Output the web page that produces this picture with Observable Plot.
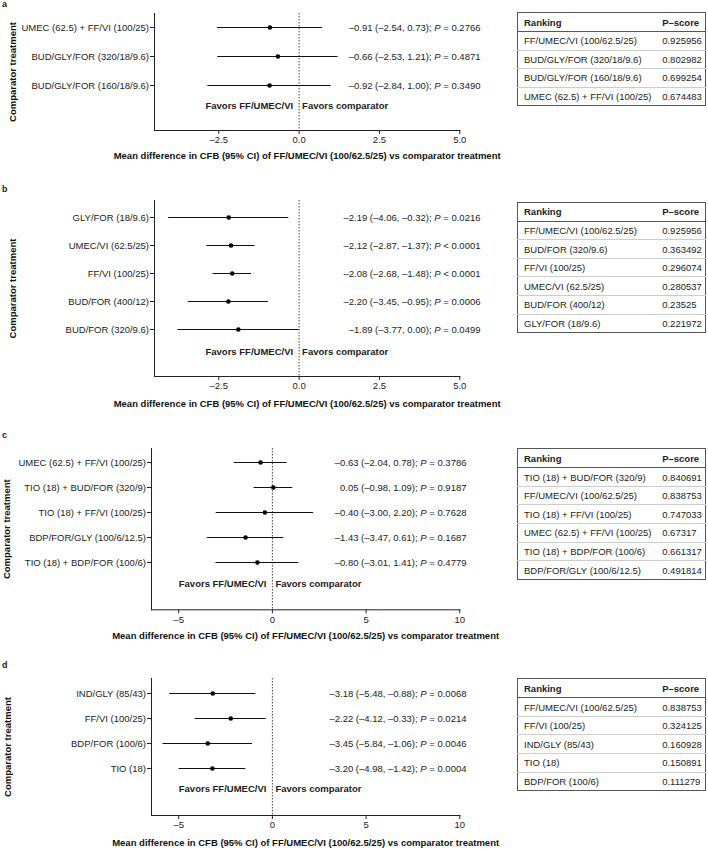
<!DOCTYPE html>
<html><head><meta charset="utf-8">
<script src="https://cdn.jsdelivr.net/npm/d3@7"></script>
<script src="https://cdn.jsdelivr.net/npm/@observablehq/plot@0.6"></script>
<style>
body{margin:0;background:#fff;}
#root{position:relative;width:708px;height:850px;overflow:hidden;font-family:"Liberation Sans",Arial,sans-serif;color:#222;}
.panel{position:absolute;left:0;}
.letter{position:absolute;left:2px;font-weight:bold;font-size:9px;line-height:10px;}
table.rank{position:absolute;left:517px;width:188px;table-layout:fixed;border-collapse:collapse;font-size:9.5px;border:1px solid #555;color:#222;}
table.rank th{font-weight:bold;text-align:left;height:18px;padding:0 0 0 6px;border-bottom:1px solid #555;white-space:nowrap;}
table.rank td{height:17.6px;padding:0 0 0 6px;border-top:1px solid #ccc;white-space:nowrap;}
table.rank th:nth-child(2), table.rank td:nth-child(2){padding-left:0;}
</style>
</head><body><div id="root"></div>
<script>
// ---------- Data ----------
const aTreatments = ["UMEC (62.5) + FF/VI (100/25)", "BUD/GLY/FOR (320/18/9.6)", "BUD/GLY/FOR (160/18/9.6)"];
const aMean  = [-0.91, -0.66, -0.92];
const aLower = [-2.54, -2.53, -2.84];
const aUpper = [0.73, 1.21, 1.00];
const aP     = ["= 0.2766", "= 0.4871", "= 0.3490"];
const aRankNames  = ["FF/UMEC/VI (100/62.5/25)", "BUD/GLY/FOR (320/18/9.6)", "BUD/GLY/FOR (160/18/9.6)", "UMEC (62.5) + FF/VI (100/25)"];
const aRankScores = ["0.925956", "0.802982", "0.699254", "0.674483"];

const bTreatments = ["GLY/FOR (18/9.6)", "UMEC/VI (62.5/25)", "FF/VI (100/25)", "BUD/FOR (400/12)", "BUD/FOR (320/9.6)"];
const bMean  = [-2.19, -2.12, -2.08, -2.20, -1.89];
const bLower = [-4.06, -2.87, -2.68, -3.45, -3.77];
const bUpper = [-0.32, -1.37, -1.48, -0.95, 0.00];
const bP     = ["= 0.0216", "< 0.0001", "< 0.0001", "= 0.0006", "= 0.0499"];
const bRankNames  = ["FF/UMEC/VI (100/62.5/25)", "BUD/FOR (320/9.6)", "FF/VI (100/25)", "UMEC/VI (62.5/25)", "BUD/FOR (400/12)", "GLY/FOR (18/9.6)"];
const bRankScores = ["0.925956", "0.363492", "0.296074", "0.280537", "0.23525", "0.221972"];

const cTreatments = ["UMEC (62.5) + FF/VI (100/25)", "TIO (18) + BUD/FOR (320/9)", "TIO (18) + FF/VI (100/25)", "BDP/FOR/GLY (100/6/12.5)", "TIO (18) + BDP/FOR (100/6)"];
const cMean  = [-0.63, 0.05, -0.40, -1.43, -0.80];
const cLower = [-2.04, -0.98, -3.00, -3.47, -3.01];
const cUpper = [0.78, 1.09, 2.20, 0.61, 1.41];
const cP     = ["= 0.3786", "= 0.9187", "= 0.7628", "= 0.1687", "= 0.4779"];
const cRankNames  = ["TIO (18) + BUD/FOR (320/9)", "FF/UMEC/VI (100/62.5/25)", "TIO (18) + FF/VI (100/25)", "UMEC (62.5) + FF/VI (100/25)", "TIO (18) + BDP/FOR (100/6)", "BDP/FOR/GLY (100/6/12.5)"];
const cRankScores = ["0.840691", "0.838753", "0.747033", "0.67317", "0.661317", "0.491814"];

const dTreatments = ["IND/GLY (85/43)", "FF/VI (100/25)", "BDP/FOR (100/6)", "TIO (18)"];
const dMean  = [-3.18, -2.22, -3.45, -3.20];
const dLower = [-5.48, -4.12, -5.84, -4.98];
const dUpper = [-0.88, -0.33, -1.06, -1.42];
const dP     = ["= 0.0068", "= 0.0214", "= 0.0046", "= 0.0004"];
const dRankNames  = ["FF/UMEC/VI (100/62.5/25)", "FF/VI (100/25)", "IND/GLY (85/43)", "TIO (18)", "BDP/FOR (100/6)"];
const dRankScores = ["0.838753", "0.324125", "0.160928", "0.150891", "0.111279"];

const xTicksAB = [-2.5, 0, 2.5, 5];
const xTicksCD = [-5, 0, 5, 10];
const xTitle = "Mean difference in CFB (95% CI) of FF/UMEC/VI (100/62.5/25) vs comparator treatment";
const yTitle = "Comparator treatment";
const favorsLeft = "Favors FF/UMEC/VI";
const favorsRight = "Favors comparator";
const rankHeader = ["Ranking", "P\u2013score"];

// ---------- Helpers ----------
const dash = s => s.replace(/-/g, "\u2013");
const f2 = v => dash(v.toFixed(2));
const root = document.getElementById("root");

function forest(o) {
  const W = 500, right = 459.3;
  const T = o.top;
  const H = o.height;
  const data = o.treatments.map((t, i) => ({
    t, m: o.mean[i], lo: o.lower[i], hi: o.upper[i],
    txt: `${f2(o.mean[i])} (${f2(o.lower[i])}, ${f2(o.upper[i])}); P ${o.p[i]}`
  }));
  const mt = o.frameTop - T;
  const mb = H - (o.frameBottom - T);
  const svg = Plot.plot({
    width: W, height: H,
    marginTop: mt, marginBottom: mb, marginLeft: o.marginLeft, marginRight: W - right,
    style: {fontFamily: '"Liberation Sans", Arial, sans-serif', fontSize: "9.5px", color: "#222", background: "transparent", overflow: "visible"},
    x: {domain: o.domain, ticks: o.ticks, tickFormat: o.tickFormat, line: true, tickSize: 4, tickPadding: 2, label: null},
    y: {type: "point", domain: o.treatments, range: [o.rowFirst - T, o.rowLast - T], padding: 0, line: true, tickSize: 4, tickPadding: 1.5, label: null},
    marks: [
      Plot.ruleX([0], {stroke: "#333", strokeWidth: 0.9, strokeDasharray: "1.5,1.5"}),
      Plot.ruleY(data, {y: "t", x1: "lo", x2: "hi", stroke: "#111", strokeWidth: 1.2}),
      Plot.dot(data, {x: "m", y: "t", r: 2.3, fill: "#000", stroke: "none"}),
      Plot.text(data, {y: "t", text: "txt", frameAnchor: "right", textAnchor: "end", dx: o.annotRight - right, fill: "#222"}),
      Plot.text([{x: 0, s: favorsLeft}], {x: "x", text: "s", frameAnchor: "bottom", dy: o.favorsY - o.frameBottom, dx: -6, textAnchor: "end", fontWeight: "bold", fill: "#222"}),
      Plot.text([{x: 0, s: favorsRight}], {x: "x", text: "s", frameAnchor: "bottom", dy: o.favorsY - o.frameBottom, dx: 3, textAnchor: "start", fontWeight: "bold", fill: "#222"}),
      Plot.text([xTitle], {frameAnchor: "bottom", textAnchor: "middle", dy: o.titleY - o.frameBottom, fontWeight: "bold", fill: "#111"}),
      Plot.text([yTitle], {frameAnchor: "left", textAnchor: "middle", rotate: -90, dx: o.ylabelX - o.marginLeft, fontWeight: "bold", fill: "#111"})
    ]
  });
  // italic P
  svg.querySelectorAll("text").forEach(t => {
    if (t.children.length) return;
    const m = t.textContent.match(/^(.*; )P( [=<] .*)$/);
    if (!m) return;
    t.textContent = "";
    const ns = "http://www.w3.org/2000/svg";
    const a = document.createElementNS(ns, "tspan"); a.textContent = m[1];
    const b = document.createElementNS(ns, "tspan"); b.textContent = "P"; b.setAttribute("font-style", "italic");
    const c = document.createElementNS(ns, "tspan"); c.textContent = m[2];
    t.append(a, b, c);
  });
  svg.querySelectorAll("[aria-label='x-axis line'], [aria-label='y-axis line']").forEach(g => g.setAttribute("stroke", "#555"));
  const div = document.createElement("div");
  div.className = "panel";
  div.style.top = T + "px";
  div.appendChild(svg);
  root.appendChild(div);

  const lt = document.createElement("div");
  lt.className = "letter";
  lt.style.top = (o.letterY - 5) + "px";
  lt.textContent = o.letter;
  root.appendChild(lt);

  const tb = document.createElement("table");
  tb.className = "rank";
  tb.style.top = o.tableTop + "px";
  const cg = document.createElement("colgroup");
  cg.innerHTML = '<col style="width:144.7px"><col style="width:43.3px">';
  tb.appendChild(cg);
  const hr = document.createElement("tr");
  rankHeader.forEach(h => { const th = document.createElement("th"); th.textContent = h; hr.appendChild(th); });
  tb.appendChild(hr);
  o.rankNames.forEach((n, i) => {
    const tr = document.createElement("tr");
    const td1 = document.createElement("td"); td1.textContent = n;
    const td2 = document.createElement("td"); td2.textContent = o.rankScores[i];
    tr.append(td1, td2);
    tb.appendChild(tr);
  });
  root.appendChild(tb);
}

const fmtAB = v => dash(d3.format(".1f")(v)).replace("\u2212", "\u2013");
const fmtCD = v => dash(d3.format("d")(v)).replace("\u2212", "\u2013");

forest({letter: "a", letterY: 4, top: 0, height: 175, frameTop: 13, frameBottom: 130, rowFirst: 26.7, rowLast: 85, favorsY: 108, titleY: 158.5,
  marginLeft: 154, domain: [-4.5, 5], ticks: xTicksAB, tickFormat: fmtAB, annotRight: 480, ylabelX: 12.7,
  treatments: aTreatments, mean: aMean, lower: aLower, upper: aUpper, p: aP,
  tableTop: 12, rankNames: aRankNames, rankScores: aRankScores});

forest({letter: "b", letterY: 189.3, top: 187, height: 235, frameTop: 200, frameBottom: 376, rowFirst: 215, rowLast: 330, favorsY: 354, titleY: 406,
  marginLeft: 154, domain: [-4.5, 5], ticks: xTicksAB, tickFormat: fmtAB, annotRight: 480, ylabelX: 12.7,
  treatments: bTreatments, mean: bMean, lower: bLower, upper: bUpper, p: bP,
  tableTop: 201.7, rankNames: bRankNames, rankScores: bRankScores});

forest({letter: "c", letterY: 435, top: 435, height: 220, frameTop: 448, frameBottom: 609.3, rowFirst: 460, rowLast: 563.3, favorsY: 586, titleY: 638.3,
  marginLeft: 151, domain: [-6.45, 10], ticks: xTicksCD, tickFormat: fmtCD, annotRight: 466, ylabelX: 6.5,
  treatments: cTreatments, mean: cMean, lower: cLower, upper: cUpper, p: cP,
  tableTop: 448.3, rankNames: cRankNames, rankScores: cRankScores});

forest({letter: "d", letterY: 665, top: 665, height: 195, frameTop: 678, frameBottom: 815, rowFirst: 691.7, rowLast: 768.3, favorsY: 791.7, titleY: 845,
  marginLeft: 151, domain: [-6.45, 10], ticks: xTicksCD, tickFormat: fmtCD, annotRight: 466, ylabelX: 7.3,
  treatments: dTreatments, mean: dMean, lower: dLower, upper: dUpper, p: dP,
  tableTop: 678.3, rankNames: dRankNames, rankScores: dRankScores});
</script>
</body></html>
